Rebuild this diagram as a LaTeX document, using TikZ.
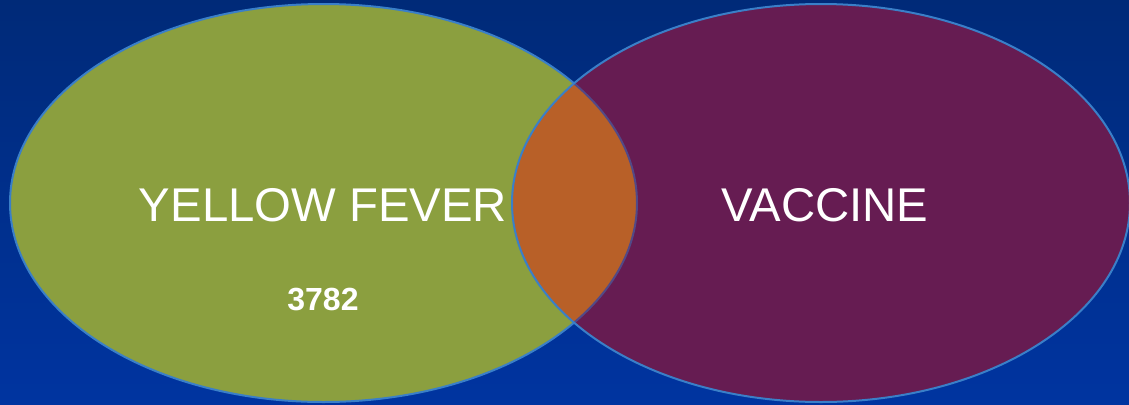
\documentclass[tikz,border=0pt]{standalone}
\usepackage{fontspec}
\setmainfont{Liberation Sans}
\definecolor{bgtop}{HTML}{002A78}
\definecolor{bgbot}{HTML}{0034A0}
\definecolor{fevergreen}{HTML}{8B9F3F}
\definecolor{vaccpurple}{HTML}{661C52}
\definecolor{bothorange}{HTML}{B86028}
\definecolor{rimblue}{HTML}{3A7FC8}
\tikzset{rim/.style={line width=1.5pt}}
\begin{document}
\begin{tikzpicture}[x=0.75pt,y=-0.75pt]

        % background
        \shade[top color=bgtop,bottom color=bgbot] (0,0) rectangle (1129,404);
        \useasboundingbox (0,0) rectangle (1129,404);

        \filldraw[rim,fill=fevergreen,draw=rimblue] (323.5,203) ellipse [x radius=313.5, y radius=199];
        \fill[vaccpurple] (821,203) ellipse [x radius=309, y radius=199];
        \begin{scope}
          \clip (821,203) ellipse [x radius=309, y radius=199];
          \filldraw[rim,fill=bothorange,draw=rimblue!45!vaccpurple] (323.5,203) ellipse [x radius=313.5, y radius=199];
        \end{scope}
        \draw[rim,rimblue] (821,203) ellipse [x radius=309, y radius=199];

        \begin{scope}[every node/.style={text=white, inner sep=0pt}]
          \node[font=\fontsize{35.5}{40}\selectfont] (fever)   at (323,205) {YELLOW FEVER};
          \node[font=\fontsize{35.5}{40}\selectfont] (vaccine) at (825,205) {VACCINE};
          \node[font=\fontsize{24}{28}\selectfont\bfseries] (count) at (323,300) {3782};
        \end{scope}

      \end{tikzpicture}
\end{document}
